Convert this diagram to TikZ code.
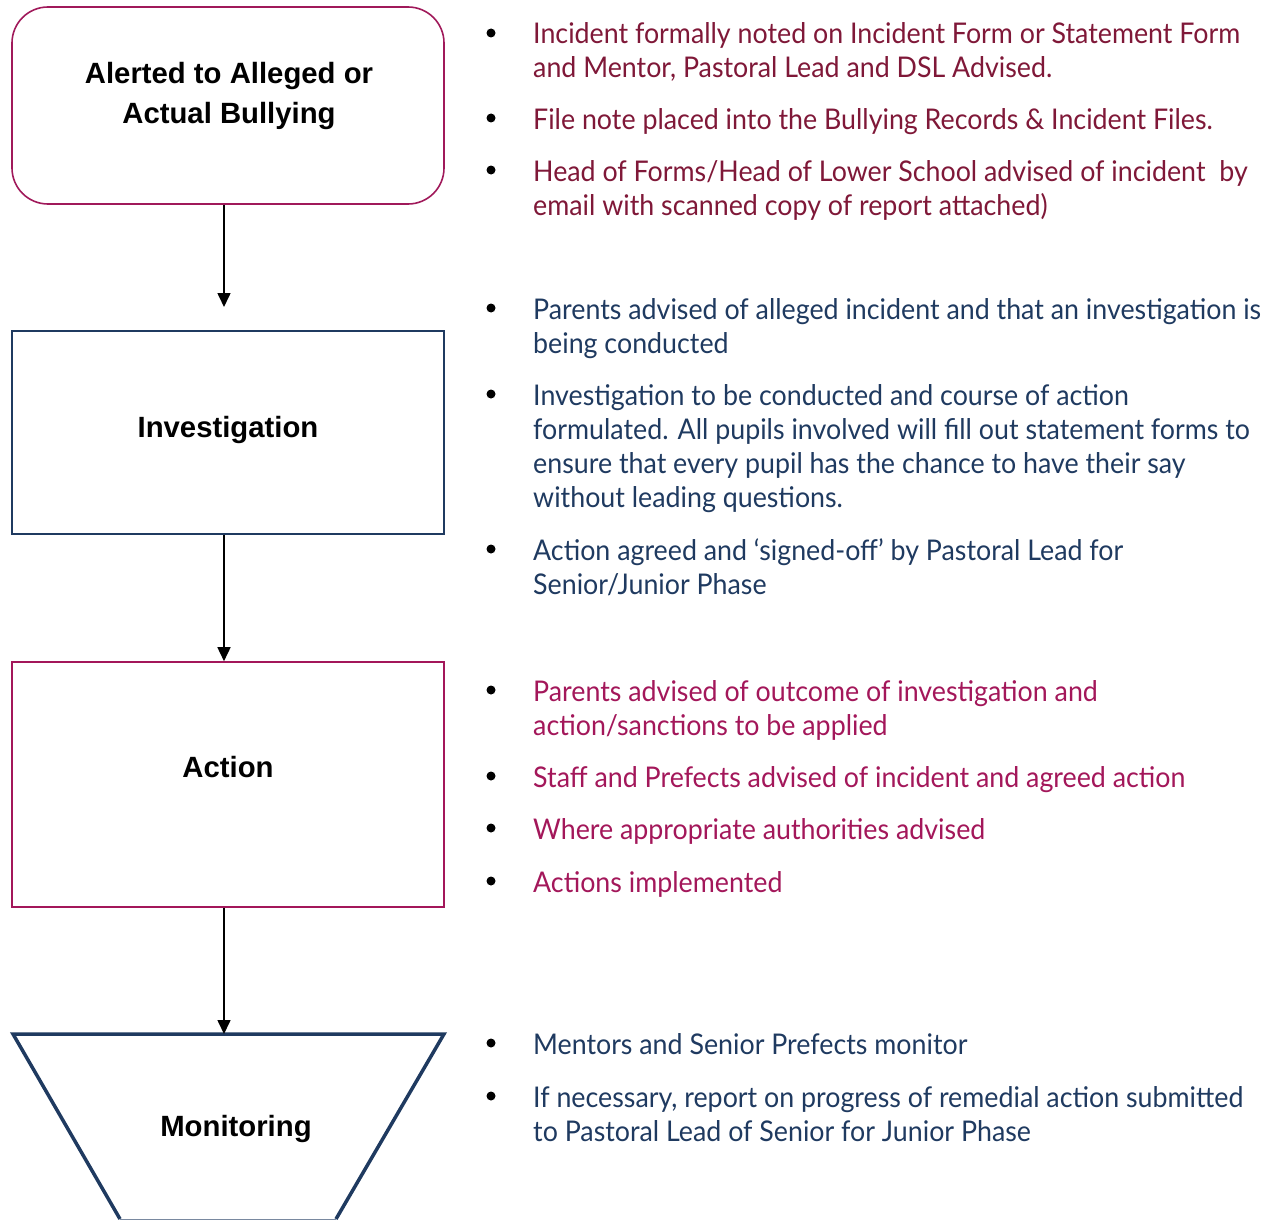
\documentclass[tikz,border=0pt]{standalone}
\usepackage{fontspec}
\setmainfont[FakeStretch=0.94]{Lato}
\newfontfamily\boxfont{Liberation Sans}
\usetikzlibrary{arrows.meta}
\definecolor{wine}{HTML}{7F1838}
\definecolor{navy}{HTML}{1F3A60}
\definecolor{berry}{HTML}{A3175A}
\definecolor{boxred}{HTML}{A0195A}
\tikzset{
  stagebox/.style={draw, line width=1.6pt, minimum width=432pt, inner sep=0pt},
  stagelabel/.style={font=\boxfont\bfseries\fontsize{29.3}{40}\selectfont, align=center, text=black},
  flowarrow/.style={line width=1.6pt, -{Triangle[width=13pt,length=14pt]}},
  item/.style={anchor=base west, inner sep=0pt, font=\fontsize{28.5}{34}\selectfont},
  dot/.style={circle, fill=black, inner sep=0pt, minimum size=9pt},
}
\begin{document}
\begin{tikzpicture}[x=1pt,y=-1pt]
\useasboundingbox (0,0) rectangle (1273,1220);
% stage boxes
\node[stagebox, draw=boxred, rounded corners=36pt, minimum height=197pt] (b1) at (228,105.5) {};
\node[stagelabel] (l1) at (229,96) {Alerted to Alleged or\\Actual Bullying};
\node[stagebox, draw=navy, minimum height=203pt] (b2) at (228,432.5) {};
\node[stagelabel] (l2) at (228,430) {Investigation};
\node[stagebox, draw=berry, minimum height=245pt] (b3) at (228,784.5) {};
\node[stagelabel] (l3) at (228,767) {Action};
% monitoring trapezoid
\coordinate (tl) at (13,1034);
\coordinate (tr) at (444,1034);
\coordinate (br) at (336,1219);
\coordinate (bl) at (120,1219);
\coordinate (ttop) at (224,1034);
\draw[navy, line width=3.5pt, line join=miter] (bl) -- (tl) -- (tr) -- (br);
\draw[navy!60, line width=1pt] (bl) -- (br);
\node[stagelabel] (l4) at (236,1129) {Monitoring};
% arrows
\coordinate (a1end) at (224,307);
\draw[flowarrow] (b1.south -| a1end) -- (a1end);
\draw[flowarrow] (b2.south -| a1end) -- (b3.north -| a1end);
\draw[flowarrow] (b3.south -| a1end) -- (ttop);
% group 1
\begin{scope}[every node/.append style={text=wine}]
\node[dot] (d1) at (491,33) {};
\node[item] (t1a) at (533,44) {Incident formally noted on Incident Form or Statement Form};
\node[item] (t1b) at (533,78) {and Mentor, Pastoral Lead and DSL Advised.};
\node[dot] (d2) at (491,118) {};
\node[item] (t2a) at (533,129) {File note placed into the Bullying Records \& Incident Files.};
\node[dot] (d3) at (491,170) {};
\node[item] (t3a) at (533,181) {Head of Forms/Head of Lower School advised of incident\ \ by};
\node[item] (t3b) at (533,215) {email with scanned copy of report attached)};
\end{scope}
% group 2
\begin{scope}[every node/.append style={text=navy}]
\node[dot] (d4) at (491,308) {};
\node[item] (t4a) at (533,319) {Parents advised of alleged incident and that an investigation is};
\node[item] (t4b) at (533,353) {being conducted};
\node[dot] (d5) at (491,394) {};
\node[item] (t5a) at (533,405) {Investigation to be conducted and course of action};
\node[item] (t5b) at (533,439) {formulated. All pupils involved will fill out statement forms to};
\node[item] (t5c) at (533,473) {ensure that every pupil has the chance to have their say};
\node[item] (t5d) at (533,507) {without leading questions.};
\node[dot] (d6) at (491,549) {};
\node[item] (t6a) at (533,560) {Action agreed and ‘signed-off’ by Pastoral Lead for};
\node[item] (t6b) at (533,594) {Senior/Junior Phase};
\end{scope}
% group 3
\begin{scope}[every node/.append style={text=berry}]
\node[dot] (d7) at (491,690) {};
\node[item] (t7a) at (533,701) {Parents advised of outcome of investigation and};
\node[item] (t7b) at (533,735) {action/sanctions to be applied};
\node[dot] (d8) at (491,776) {};
\node[item] (t8a) at (533,787) {Staff and Prefects advised of incident and agreed action};
\node[dot] (d9) at (491,828) {};
\node[item] (t9a) at (533,839) {Where appropriate authorities advised};
\node[dot] (d10) at (491,881) {};
\node[item] (t10a) at (533,892) {Actions implemented};
\end{scope}
% group 4
\begin{scope}[every node/.append style={text=navy}]
\node[dot] (d11) at (491,1043) {};
\node[item] (t11a) at (533,1054) {Mentors and Senior Prefects monitor};
\node[dot] (d12) at (491,1096) {};
\node[item] (t12a) at (533,1107) {If necessary, report on progress of remedial action submitted};
\node[item] (t12b) at (533,1141) {to Pastoral Lead of Senior for Junior Phase};
\end{scope}
\end{tikzpicture}
\end{document}
